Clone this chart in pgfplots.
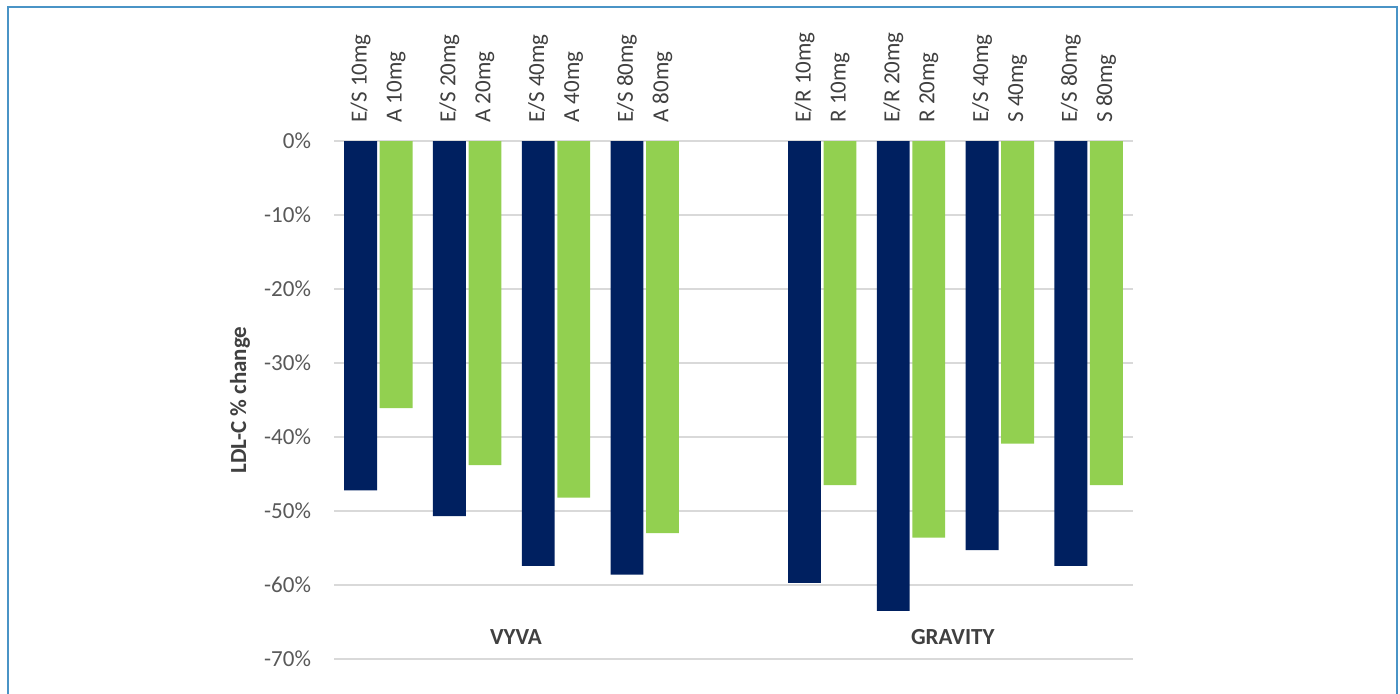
\documentclass[border=0pt]{standalone}
\usepackage{fontspec}
\setmainfont{Carlito}
\usepackage{pgfplots}
\usepackage{pgfplotstable}
\pgfplotsset{compat=1.18}
\definecolor{navy}{HTML}{002060}
\definecolor{lime}{HTML}{92D050}
\definecolor{gridgray}{HTML}{D9D9D9}
\definecolor{ticktxt}{HTML}{595959}
\definecolor{labtxt}{HTML}{404040}
\definecolor{framecol}{HTML}{4A94C6}

% LDL-C % change per arm; x = slot (slot 4 separates the two studies)
\pgfplotstableread{
x es other
0 -47.2 -36.1
1 -50.7 -43.8
2 -57.4 -48.2
3 -58.6 -53.0
5 -59.7 -46.5
6 -63.5 -53.6
7 -55.3 -40.9
8 -57.4 -46.5
}\ldltable

\tikzset{blab/.style={rotate=90, anchor=west, inner sep=0pt,
  font=\fontsize{11.5}{13}\selectfont, text=labtxt}}

\begin{document}
\begin{tikzpicture}[x=1pt,y=1pt]
\useasboundingbox (0,0) rectangle (700,346.5);
\clip (0,0) rectangle (700,346.5);
\begin{axis}[at={(167pt,17pt)}, anchor=south west, scale only axis,
  width=399.5pt, height=259pt,
  xmin=-0.5, xmax=8.5, ymin=-70, ymax=0,
  xtick=\empty,
  ytick={-70,-60,...,0},
  yticklabels={-70\%,-60\%,-50\%,-40\%,-30\%,-20\%,-10\%,0\%},
  ymajorgrids, grid style={gridgray, line width=0.6pt},
  axis line style={draw=none}, tick style={draw=none},
  yticklabel style={font=\fontsize{11.5}{13}\selectfont, text=ticktxt, xshift=-8pt},
  ylabel={LDL-C \% change},
  every axis y label/.style={at={(axis description cs:-0.1176,0.5)}, rotate=90,
    anchor=center, font=\bfseries\fontsize{11.5}{13}\selectfont, text=labtxt},
  ybar, bar width=0.37, clip=false]
\addplot[fill=navy, draw=none, bar shift=-0.2] table[x=x,y=es]{\ldltable};
\addplot[fill=lime, draw=none, bar shift=0.2] table[x=x,y=other]{\ldltable};

\node[blab] at ([yshift=9pt]axis cs:-0.2,0) {E/S 10mg};
\node[blab] at ([yshift=9pt]axis cs:0.2,0) {A 10mg};
\node[blab] at ([yshift=9pt]axis cs:0.8,0) {E/S 20mg};
\node[blab] at ([yshift=9pt]axis cs:1.2,0) {A 20mg};
\node[blab] at ([yshift=9pt]axis cs:1.8,0) {E/S 40mg};
\node[blab] at ([yshift=9pt]axis cs:2.2,0) {A 40mg};
\node[blab] at ([yshift=9pt]axis cs:2.8,0) {E/S 80mg};
\node[blab] at ([yshift=9pt]axis cs:3.2,0) {A 80mg};
\node[blab] at ([yshift=9pt]axis cs:4.8,0) {E/R 10mg};
\node[blab] at ([yshift=9pt]axis cs:5.2,0) {R 10mg};
\node[blab] at ([yshift=9pt]axis cs:5.8,0) {E/R 20mg};
\node[blab] at ([yshift=9pt]axis cs:6.2,0) {R 20mg};
\node[blab] at ([yshift=9pt]axis cs:6.8,0) {E/S 40mg};
\node[blab] at ([yshift=9pt]axis cs:7.2,0) {S 40mg};
\node[blab] at ([yshift=9pt]axis cs:7.8,0) {E/S 80mg};
\node[blab] at ([yshift=9pt]axis cs:8.2,0) {S 80mg};

\node[font=\bfseries\fontsize{11.5}{13}\selectfont, text=labtxt] at (axis cs:1.55,-67) {VYVA};
\node[font=\bfseries\fontsize{11.5}{13}\selectfont, text=labtxt] at (axis cs:6.47,-67) {GRAVITY};
\end{axis}
\draw[framecol, line width=1pt] (4,-5) rectangle (698.7,343);
\end{tikzpicture}
\end{document}
